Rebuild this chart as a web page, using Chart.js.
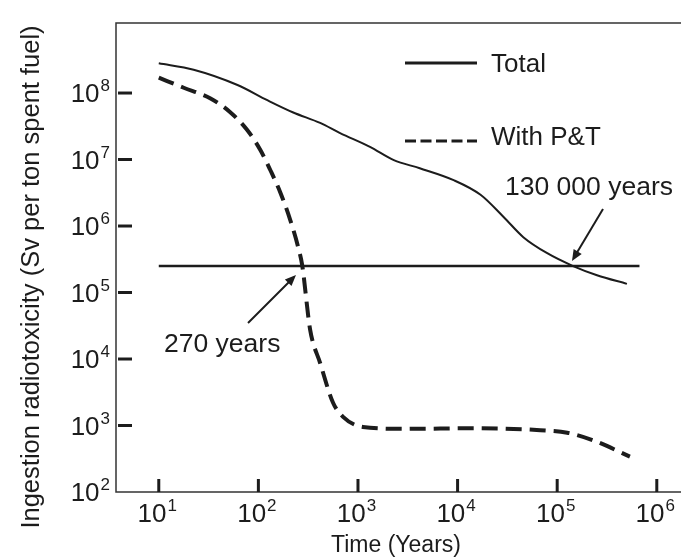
<!DOCTYPE html>
<html>
<head>
<meta charset="utf-8">
<script src="https://cdn.jsdelivr.net/npm/chart.js@4"></script>
<style>
  html, body { margin: 0; padding: 0; background: #fff; }
  #wrap { width: 681px; height: 558px; }
</style>
</head>
<body>
<div id="wrap"><canvas id="myChart" width="681" height="558"></canvas></div>
<script>
// values (time in years, Sv per ton spent fuel)
const totalYears = [10, 22.4, 61.7, 123, 224, 417, 661, 1320, 2290, 4170, 9120, 17000, 28800, 45700, 79400, 144500, 251000, 501000];
const totalValues = [2.8e8, 2.24e8, 1.32e8, 7.8e7, 5.1e7, 3.55e7, 2.5e7, 1.55e7, 9.8e6, 7.4e6, 4.9e6, 2.95e6, 1.38e6, 6.8e5, 3.9e5, 2.5e5, 1.82e5, 1.35e5];

const ptYears = [10, 17.8, 33.1, 52.5, 77.6, 105, 132, 166, 209, 251, 275, 331, 417, 562, 708, 1120, 3090, 14450, 67600, 126000, 229000, 537000];
const ptValues = [1.7e8, 1.2e8, 8.3e7, 5.1e7, 2.75e7, 1.38e7, 6.9e6, 3.2e6, 1.23e6, 4.8e5, 2.6e5, 2.75e4, 8.7e3, 2.2e3, 1.35e3, 950, 890, 910, 850, 780, 600, 340];

// reference level line
const refYears = [10, 670000];
const refLevel = 2.5e5;

const xTicks = [1e1, 1e2, 1e3, 1e4, 1e5, 1e6];
const yTicks = [1e2, 1e3, 1e4, 1e5, 1e6, 1e7, 1e8];

const labelTotal = 'Total';
const labelPT = 'With P&T';
const note1 = '130 000 years';
const note2 = '270 years';
const xTitle = 'Time (Years)';
const yTitle = 'Ingestion radiotoxicity (Sv per ton spent fuel)';

const ink = '#1c1c1c';
const font = '"Liberation Sans", Arial, sans-serif';

function pts(xs, ys) {
    return xs.map((x, i) => ({ x: x, y: ys[i] }));
}

function arrow(ctx, x1, y1, x2, y2) {
    const a = Math.atan2(y2 - y1, x2 - x1);
    ctx.beginPath();
    ctx.moveTo(x1, y1);
    ctx.lineTo(x2 - 6 * Math.cos(a), y2 - 6 * Math.sin(a));
    ctx.stroke();
    ctx.beginPath();
    ctx.moveTo(x2, y2);
    ctx.lineTo(x2 - 12 * Math.cos(a - 0.4), y2 - 12 * Math.sin(a - 0.4));
    ctx.lineTo(x2 - 12 * Math.cos(a + 0.4), y2 - 12 * Math.sin(a + 0.4));
    ctx.closePath();
    ctx.fill();
}

function powLabel(ctx, v, x, y, align) {
    // "10" with a raised exponent
    const exp = String(Math.round(Math.log10(v)));
    ctx.font = '26px ' + font;
    const wBase = ctx.measureText('10').width;
    ctx.font = '17px ' + font;
    const wExp = ctx.measureText(exp).width;
    let left = x;
    if (align === 'right') left = x - wBase - wExp;
    if (align === 'center') left = x - (wBase + wExp) / 2;
    ctx.textAlign = 'left';
    ctx.font = '26px ' + font;
    ctx.fillText('10', left, y);
    ctx.font = '17px ' + font;
    ctx.fillText(exp, left + wBase + 1, y - 11);
}

const decor = {
    id: 'decor',
    afterDraw(chart) {
        const ctx = chart.ctx;
        const area = chart.chartArea;
        const xs = chart.scales.x;
        const ys = chart.scales.y;
        ctx.save();
        ctx.fillStyle = ink;
        ctx.strokeStyle = ink;
        ctx.textBaseline = 'alphabetic';

        // frame: left, bottom, top
        ctx.lineWidth = 1.5;
        ctx.strokeStyle = '#333';
        ctx.beginPath();
        ctx.moveTo(area.right, area.top);
        ctx.lineTo(area.left, area.top);
        ctx.lineTo(area.left, area.bottom);
        ctx.lineTo(area.right, area.bottom);
        ctx.stroke();

        // ticks
        ctx.strokeStyle = ink;
        ctx.lineWidth = 3;
        xTicks.forEach(v => {
            const px = xs.getPixelForValue(v);
            ctx.beginPath();
            ctx.moveTo(px, area.bottom);
            ctx.lineTo(px, area.bottom - 13);
            ctx.stroke();
            powLabel(ctx, v, px - 2, area.bottom + 30, 'center');
        });
        yTicks.forEach(v => {
            const py = ys.getPixelForValue(v);
            if (v > ys.min) {
                ctx.beginPath();
                ctx.moveTo(area.left + 2, py);
                ctx.lineTo(area.left + 16, py);
                ctx.stroke();
            }
            powLabel(ctx, v, area.left - 7, py + 9, 'right');
        });

        // axis titles
        ctx.font = '23px ' + font;
        ctx.textAlign = 'center';
        ctx.fillText(xTitle, 396, 552);
        ctx.save();
        ctx.font = '25.5px ' + font;
        ctx.translate(39, 277);
        ctx.rotate(-Math.PI / 2);
        ctx.fillText(yTitle, 0, 0);
        ctx.restore();

        // legend
        ctx.lineWidth = 3;
        ctx.beginPath();
        ctx.moveTo(405, 63);
        ctx.lineTo(477, 63);
        ctx.stroke();
        ctx.setLineDash([11, 4.5]);
        ctx.beginPath();
        ctx.moveTo(405, 141);
        ctx.lineTo(477, 141);
        ctx.stroke();
        ctx.setLineDash([]);
        ctx.font = '26px ' + font;
        ctx.textAlign = 'left';
        ctx.fillText(labelTotal, 491, 72);
        ctx.fillText(labelPT, 491, 145);

        // notes with arrows
        ctx.font = '26.5px ' + font;
        ctx.fillText(note1, 505, 195);
        ctx.fillText(note2, 164, 352);
        ctx.lineWidth = 2;
        arrow(ctx, 603, 209, 572, 261);
        arrow(ctx, 248, 323, 296, 275);
        ctx.restore();
    }
};

const ch = document.getElementById('myChart').getContext('2d');

const config = {
    type: 'line',
    data: {
        datasets: [
            {
                label: labelTotal,
                data: pts(totalYears, totalValues),
                borderColor: ink,
                borderWidth: 2,
                pointRadius: 0,
                cubicInterpolationMode: 'monotone'
            },
            {
                label: labelPT,
                data: pts(ptYears, ptValues),
                borderColor: ink,
                borderWidth: 4,
                borderDash: [16, 8],
                pointRadius: 0,
                cubicInterpolationMode: 'monotone'
            },
            {
                label: 'reference',
                data: pts(refYears, [refLevel, refLevel]),
                borderColor: ink,
                borderWidth: 2.5,
                pointRadius: 0
            }
        ]
    },
    options: {
        responsive: false,
        animation: false,
        layout: { padding: { left: 116, top: 23, right: 0, bottom: 66 } },
        plugins: {
            legend: { display: false },
            tooltip: { enabled: false }
        },
        scales: {
            x: { type: 'logarithmic', min: 3.72, max: 1.75e6, display: false },
            y: { type: 'logarithmic', min: 100, max: 1.13e9, display: false }
        }
    },
    plugins: [decor]
};

new Chart(ch, config);
</script>
</body>
</html>
